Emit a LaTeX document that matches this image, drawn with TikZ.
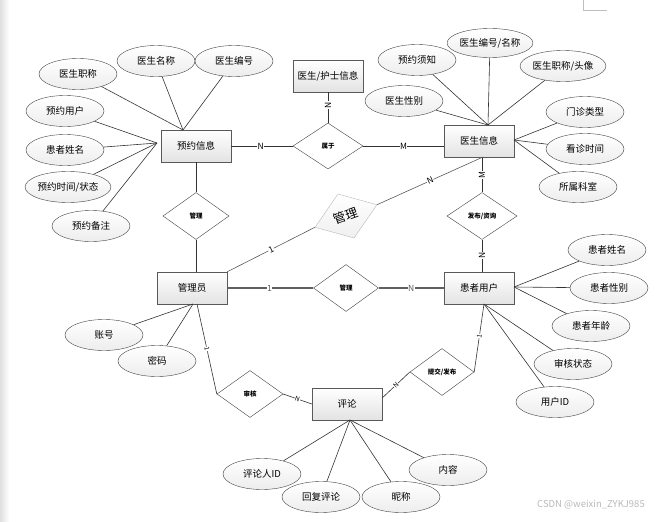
\documentclass[tikz,border=0pt]{standalone}
\usepackage{fontspec}
\setmainfont{Noto Sans CJK SC}
\usetikzlibrary{shapes.geometric}

\tikzset{
  entity/.style={draw=gray!70!black, top color=white, bottom color=gray!22,
    minimum width=70pt, minimum height=32pt, inner sep=0pt,
    font=\fontsize{9.5}{10}\selectfont},
  attr/.style={ellipse, draw=gray!50!black, top color=white, bottom color=gray!14,
    minimum width=78pt, minimum height=31pt, inner sep=0pt,
    font=\fontsize{9.5}{10}\selectfont},
  rel/.style={diamond, draw=gray!50!black, fill=white, minimum width=66pt,
    minimum height=47pt, inner sep=0pt, font=\fontsize{6.5}{7}\selectfont\bfseries},
  card/.style={fill=white, inner sep=0.5pt, font=\fontsize{8.5}{9}\selectfont},
  link/.style={draw=black!80, line width=0.6pt},
}

\begin{document}
\begin{tikzpicture}[x=1pt, y=-1pt]
        \useasboundingbox (0,0) rectangle (670,522);

        % The page edge
        \shade[left color=gray!25, right color=white] (0,0) rectangle (9,522);
        \draw[gray!50] (583,0) -- (583,10) -- (607,10);

        % The entities
        \node[entity] (yyxx) at (196,146) {预约信息};
        \node[entity] (yshs) at (328,76) {医生/护士信息};
        \node[entity] (ysxx) at (479,141) {医生信息};
        \node[entity] (gly) at (192,288) {管理员};
        \node[entity] (hzyh) at (479,288) {患者用户};
        \node[entity] (pl) at (347,404) {评论};

        % The relations
        \node[rel, minimum width=70pt, minimum height=46pt] (sy) at (328,146) {属于};
        \node[rel] (gl1) at (196,216) {管理};
        \node[rel, draw=gray!55, top color=white, bottom color=gray!12,
              font=\fontsize{12.5}{13}\selectfont, rotate=20] (gl2) at (346,216) {管理};
        \node[rel, minimum width=70pt] (fbzx) at (482,216) {发布/资询};
        \node[rel, minimum width=65pt] (gl3) at (346,288) {管理};
        \node[rel] (sh) at (250,394) {审核};
        \node[rel, minimum width=64pt] (tjfb) at (442,372) {提交/发布};

        % The attributes of 预约信息
        \node[attr] (yszc) at (78,74) {医生职称};
        \node[attr] (ysmc) at (156,61) {医生名称};
        \node[attr] (ysbh) at (234,61) {医生编号};
        \node[attr] (yyyh) at (65,111) {预约用户};
        \node[attr] (hzxm) at (65,150) {患者姓名};
        \node[attr, minimum width=80pt] (yysj) at (68,187) {预约时间/状态};
        \node[attr] (yybz) at (91,226) {预约备注};
        \coordinate (yyT) at (183,130);
        \coordinate (yyL) at (157,143);
        \foreach \a in {yszc,ysmc,ysbh} \draw[link] (\a) -- (yyT);
        \foreach \a in {yyyh,hzxm,yysj,yybz} \draw[link] (\a) -- (yyL);

        % The attributes of 医生信息
        \node[attr] (yyxz) at (417,60) {预约须知};
        \node[attr, minimum width=80pt, minimum height=29pt] (ysbhmc) at (490,43) {医生编号/名称};
        \node[attr, minimum width=80pt] (yszctx) at (563,66) {医生职称/头像};
        \node[attr] (ysxb) at (404,101) {医生性别};
        \node[attr] (mzlx) at (585,112) {门诊类型};
        \node[attr] (kzsj) at (585,149) {看诊时间};
        \node[attr] (sske) at (578,187) {所属科室};
        \coordinate (ysT) at (488,125);
        \coordinate (ysR) at (514,140);
        \foreach \a in {yyxz,ysbhmc,yszctx,ysxb} \draw[link] (\a) -- (ysT);
        \foreach \a in {mzlx,kzsj,sske} \draw[link] (\a) -- (ysR);

        % The attributes of 患者用户
        \node[attr] (hzxm2) at (607,250) {患者姓名};
        \node[attr] (hzxb) at (609,288) {患者性别};
        \node[attr] (hznl) at (591,326) {患者年龄};
        \node[attr] (shzt) at (573,364) {审核状态};
        \node[attr] (yhid) at (555,402) {用户ID};
        \coordinate (hzR) at (514,287);
        \coordinate (hzB) at (484,304);
        \foreach \a in {hzxm2,hzxb,hznl} \draw[link] (\a) -- (hzR);
        \foreach \a in {shzt,yhid} \draw[link] (\a) -- (hzB);

        % The attributes of 管理员
        \node[attr] (zh) at (104,335) {账号};
        \node[attr] (mm) at (157,361) {密码};
        \coordinate (glyB) at (193,304);
        \foreach \a in {zh,mm} \draw[link] (\a) -- (glyB);

        % The attributes of 评论
        \node[attr] (plrid) at (262,474) {评论人ID};
        \node[attr] (hfpl) at (321,497) {回复评论};
        \node[attr] (nc) at (401,497) {昵称};
        \node[attr] (nr) at (448,470) {内容};
        \coordinate (plB) at (350,420);
        \foreach \a in {plrid,hfpl,nc,nr} \draw[link] (\a) -- (plB);

        % The connectors
        \draw[link] (yyxx) -- node[card, pos=0.48] {N} (sy);
        \draw[link] (sy) -- node[card] {M} (sy.east -| ysxx.west);
        \draw[link] (yshs) -- node[card, rotate=90, pos=0.42] {N} (sy);
        \draw[link] (yyxx.south -| gl1.north) -- (gl1.north);
        \draw[link] (gl1.south) -- (gl1.south |- gly.north);
        \draw[link] (fbzx.north |- ysxx.south) -- node[card, rotate=90] {M} (fbzx.north);
        \draw[link] (fbzx.south) -- node[card, rotate=90] {N} (fbzx.south |- hzyh.north);
        \coordinate (ysB) at (483,157);
        \draw[link, draw=gray!70!black] (gl2.east) -- node[card, sloped] {N} (ysB);
        \draw[link, draw=gray!70!black] (gl2.west) -- node[card, sloped] {1} (gly.north east);
        \draw[gray!75!black, line width=1.1pt] (gly) -- node[card, pos=0.49] {1} (gl3);
        \draw[gray!75!black, line width=1.1pt] (gl3) -- node[card] {N} (hzyh);
        \coordinate (glyB2) at (197,304);
        \draw[link] (glyB2) -- node[card, sloped, font=\fontsize{6.5}{7}\selectfont] {1} (sh.west);
        \draw[link] (sh.east) -- node[card, sloped, font=\fontsize{6.5}{7}\selectfont] {N} (pl.west);
        \draw[link] ([yshift=6pt]pl.east) -- node[card, sloped, font=\fontsize{6.5}{7}\selectfont] {N} (tjfb.west);
        \draw[link] (tjfb.east) -- node[card, sloped, font=\fontsize{6.5}{7}\selectfont, pos=0.53] {1} (hzB);

        % The watermark
        \node[text=gray!55, font=\fontsize{9.5}{10}\selectfont] (wm) at (591,505) {CSDN @weixin\_ZYKJ985};
\end{tikzpicture}
\end{document}
